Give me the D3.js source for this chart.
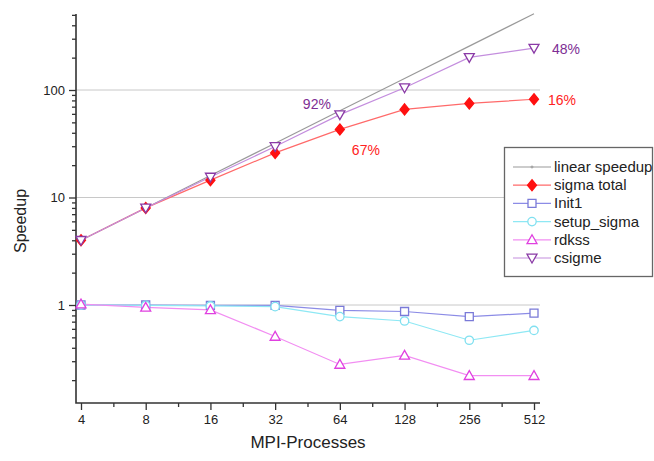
<!DOCTYPE html>
<html>
<head>
<meta charset="utf-8">
<script src="https://cdn.jsdelivr.net/npm/d3@7"></script>
<style>
  html, body { margin: 0; padding: 0; background: #fff; }
  svg { display: block; font-family: "Liberation Sans", Arial, sans-serif; }
</style>
</head>
<body>
<svg id="chart" width="654" height="461"></svg>
<script>
// MPI process counts (x axis, log2)
const procs = [4, 8, 16, 32, 64, 128, 256, 512];
const procLabels = ["4", "8", "16", "32", "64", "128", "256", "512"];

// Speedup per routine
const linearSpeedup = [4, 8, 16, 32, 64, 128, 256, 512];
const sigmaTotal = [4, 8, 14.5, 26, 43, 66, 75, 82];
const csigme = [4, 8, 15.5, 29.8, 59, 105, 201, 245];
const init1 = [1.0, 1.0, 0.99, 0.99, 0.89, 0.87, 0.78, 0.84];
const setupSigma = [1.0, 0.99, 0.98, 0.965, 0.78, 0.71, 0.47, 0.58];
const rdkss = [1.02, 0.95, 0.90, 0.51, 0.28, 0.34, 0.22, 0.22];

// Y tick labels
const yMajor = [1, 10, 100];
const yMajorLabels = ["1", "10", "100"];

const svg = d3.select("#chart");

const x = d3.scaleLog().base(2).domain([4, 512]).range([81, 534]);
const y = d3.scaleLog().domain([1, 100]).range([305, 90]);

const axisLeft = 76, axisRight = 540, axisTop = 14, axisBottom = 403;

// horizontal grid lines at the decades
svg.append("g").selectAll("line").data(yMajor).join("line")
  .attr("x1", axisLeft).attr("x2", axisRight)
  .attr("y1", d => y(d)).attr("y2", d => y(d))
  .attr("stroke", "#c8c8c8").attr("stroke-width", 1);

// y axis: major and minor ticks
const yMinor = [];
[0.1, 1, 10, 100].forEach(dec => {
  for (let k = 2; k <= 9; k++) {
    const v = dec * k;
    if (y(v) >= axisTop - 0.5 && y(v) <= axisBottom) yMinor.push(v);
  }
});

const gyMinor = svg.append("g").attr("transform", `translate(${axisLeft},0)`)
  .call(d3.axisLeft(y).tickValues(yMinor).tickSize(4).tickFormat(""));
gyMinor.select(".domain").remove();
const gyMajor = svg.append("g").attr("transform", `translate(${axisLeft},0)`)
  .call(d3.axisLeft(y).tickValues(yMajor).tickSize(7).tickPadding(4)
    .tickFormat((d, i) => yMajorLabels[i]));
gyMajor.select(".domain").remove();
svg.selectAll("g .tick line").attr("stroke", "#333").attr("stroke-width", 1.3);
gyMajor.selectAll("text").attr("font-size", 13).attr("fill", "#222")
  .attr("font-family", "Liberation Sans, Arial, sans-serif");

// x axis: major ticks at each process count, minor ticks between
const xMinor = procs.slice(0, -1).map(p => p * Math.SQRT2);
const gxMinor = svg.append("g").attr("transform", `translate(0,${axisBottom})`)
  .call(d3.axisBottom(x).tickValues(xMinor).tickSize(4).tickFormat(""));
gxMinor.select(".domain").remove();
const gxMajor = svg.append("g").attr("transform", `translate(0,${axisBottom})`)
  .call(d3.axisBottom(x).tickValues(procs).tickSize(7).tickPadding(5)
    .tickFormat((d, i) => procLabels[i]));
gxMajor.select(".domain").remove();
svg.selectAll("g .tick line").attr("stroke", "#333").attr("stroke-width", 1.3);
gxMajor.selectAll("text").attr("font-size", 13).attr("fill", "#222")
  .attr("font-family", "Liberation Sans, Arial, sans-serif");

// axis lines
svg.append("path")
  .attr("d", `M${axisLeft},${axisTop}V${axisBottom}H${axisRight}`)
  .attr("fill", "none").attr("stroke", "#333").attr("stroke-width", 1.6);

// axis titles
svg.append("text").attr("x", 308).attr("y", 448).attr("text-anchor", "middle")
  .attr("font-size", 17).attr("fill", "#222").text("MPI-Processes");
svg.append("text").attr("transform", "translate(26,221) rotate(-90)")
  .attr("text-anchor", "middle").attr("font-size", 16).attr("fill", "#222").text("Speedup");

// series definitions
const series = [
  { name: "linear speedup", values: linearSpeedup, line: "#9a9a9a", mark: "#9a9a9a", shape: "none" },
  { name: "sigma total", values: sigmaTotal, line: "#ff6a6a", mark: "#ff1010", shape: "diamond" },
  { name: "Init1", values: init1, line: "#8c8ce6", mark: "#7a7ad8", shape: "square" },
  { name: "setup_sigma", values: setupSigma, line: "#8ee8f4", mark: "#80e0f0", shape: "circle" },
  { name: "rdkss", values: rdkss, line: "#f28ef2", mark: "#e040e0", shape: "triangleUp" },
  { name: "csigme", values: csigme, line: "#c48ede", mark: "#8a3aa6", shape: "triangleDown" }
];

function markerPath(shape) {
  switch (shape) {
    case "diamond": return "M0,-5.5L4.5,0L0,5.5L-4.5,0Z";
    case "square": return "M-4,-4H4V4H-4Z";
    case "circle": return "M4.2,0A4.2,4.2 0 1 1 -4.2,0A4.2,4.2 0 1 1 4.2,0Z";
    case "triangleUp": return "M0,-5L5,3.8H-5Z";
    case "triangleDown": return "M0,5L5,-3.8H-5Z";
    default: return "M-1.5,0H1.5M0,-1.5V1.5";
  }
}

const line = d3.line().x((d, i) => x(procs[i])).y(d => y(d));

const plot = svg.append("g");
series.forEach(s => {
  plot.append("path").datum(s.values)
    .attr("d", line).attr("fill", "none")
    .attr("stroke", s.line).attr("stroke-width", 1.2);
});
series.forEach(s => {
  if (s.shape === "none") return;
  plot.append("g").selectAll("path").data(s.values).join("path")
    .attr("transform", (d, i) => `translate(${x(procs[i])},${y(d)})`)
    .attr("d", markerPath(s.shape))
    .attr("fill", s.shape === "diamond" ? s.mark : "#fff")
    .attr("stroke", s.mark).attr("stroke-width", 1.3);
});

// parallel efficiency annotations (speedup / processes)
const eff = (vals, i) => Math.round(vals[i] / procs[i] * 100) + "%";
const notes = [
  { vals: csigme, i: 7, dx: 18, dy: 6, color: "#7e2e94" },
  { vals: sigmaTotal, i: 7, dx: 14, dy: 6, color: "#ff2222" },
  { vals: csigme, i: 4, dx: -37, dy: -6, color: "#7e2e94" },
  { vals: sigmaTotal, i: 4, dx: 12, dy: 26, color: "#ff2222" }
];
svg.append("g").selectAll("text").data(notes).join("text")
  .attr("x", d => x(procs[d.i]) + d.dx)
  .attr("y", d => y(d.vals[d.i]) + d.dy)
  .attr("font-size", 14).attr("fill", d => d.color)
  .text(d => eff(d.vals, d.i));

// legend
const lg = svg.append("g");
lg.append("rect").attr("x", 504.5).attr("y", 147.5).attr("width", 148).attr("height", 129)
  .attr("fill", "#fff").attr("stroke", "#666").attr("stroke-width", 1.3);
series.forEach((s, k) => {
  const cy = 167 + k * 18.2;
  lg.append("line").attr("x1", 513).attr("x2", 551).attr("y1", cy).attr("y2", cy)
    .attr("stroke", s.line).attr("stroke-width", 1.2);
  lg.append("path").attr("transform", `translate(532,${cy})`)
    .attr("d", markerPath(s.shape))
    .attr("fill", s.shape === "diamond" ? s.mark : (s.shape === "none" ? "none" : "#fff"))
    .attr("stroke", s.mark).attr("stroke-width", s.shape === "none" ? 1 : 1.3);
  lg.append("text").attr("x", 554).attr("y", cy + 5).attr("font-size", 15)
    .attr("fill", "#222").text(s.name);
});
</script>
</body>
</html>
